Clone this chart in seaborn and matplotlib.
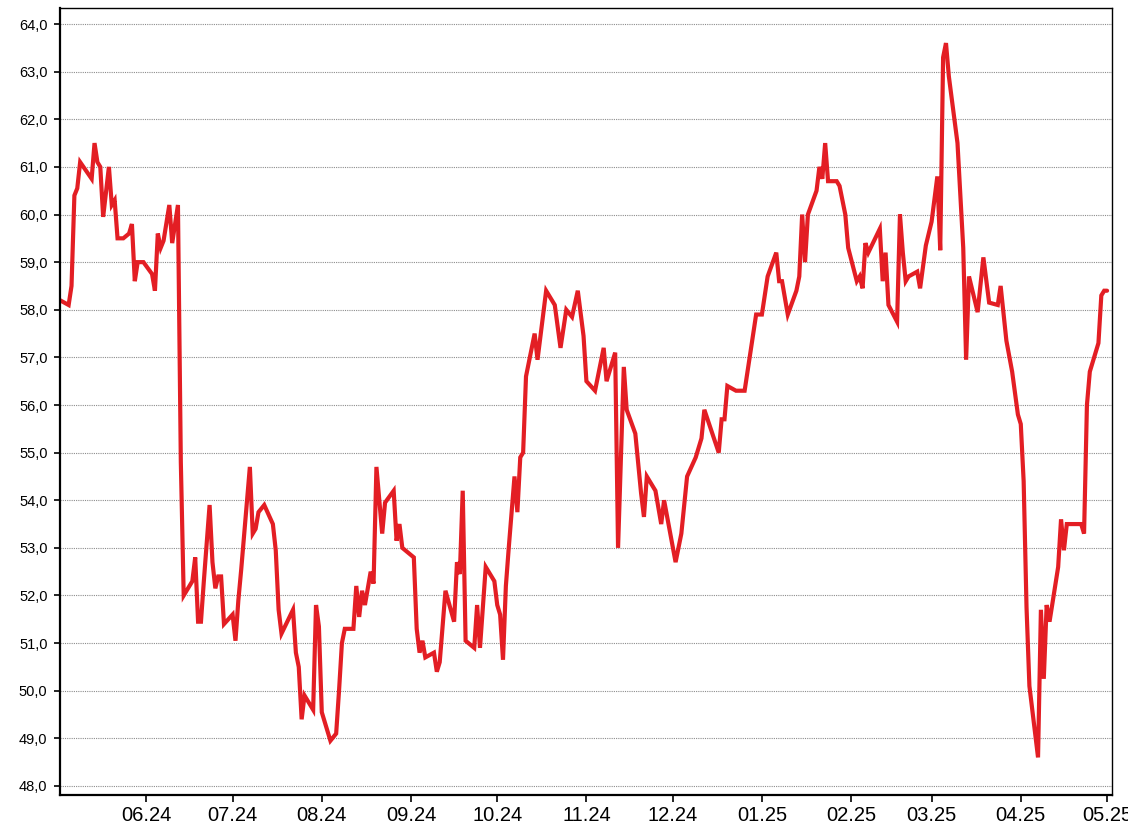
import matplotlib
matplotlib.use("Agg")
import matplotlib.pyplot as plt
from matplotlib.ticker import FuncFormatter, MultipleLocator
import seaborn as sns
import pandas as pd

dates = [
    "2024-05-02", "2024-05-05", "2024-05-06", "2024-05-07", "2024-05-08", "2024-05-09",
    "2024-05-13", "2024-05-14", "2024-05-15", "2024-05-16", "2024-05-17", "2024-05-19",
    "2024-05-20", "2024-05-21", "2024-05-22", "2024-05-24", "2024-05-26", "2024-05-27",
    "2024-05-28", "2024-05-29", "2024-05-31", "2024-06-03", "2024-06-04", "2024-06-05",
    "2024-06-06", "2024-06-07", "2024-06-09", "2024-06-10", "2024-06-12", "2024-06-13",
    "2024-06-14", "2024-06-17", "2024-06-18", "2024-06-19", "2024-06-20", "2024-06-21",
    "2024-06-23", "2024-06-24", "2024-06-25", "2024-06-26", "2024-06-27", "2024-06-28",
    "2024-07-01", "2024-07-02", "2024-07-03", "2024-07-04", "2024-07-07", "2024-07-08",
    "2024-07-09", "2024-07-10", "2024-07-12", "2024-07-15", "2024-07-16", "2024-07-17",
    "2024-07-18", "2024-07-22", "2024-07-23", "2024-07-24", "2024-07-25", "2024-07-26",
    "2024-07-29", "2024-07-30", "2024-07-31", "2024-08-01", "2024-08-04", "2024-08-06",
    "2024-08-07", "2024-08-08", "2024-08-09", "2024-08-12", "2024-08-13", "2024-08-14",
    "2024-08-15", "2024-08-16", "2024-08-18", "2024-08-19", "2024-08-20", "2024-08-22",
    "2024-08-23", "2024-08-26", "2024-08-27", "2024-08-28", "2024-08-29", "2024-09-02",
    "2024-09-03", "2024-09-04", "2024-09-05", "2024-09-06", "2024-09-09", "2024-09-10",
    "2024-09-11", "2024-09-13", "2024-09-16", "2024-09-17", "2024-09-18", "2024-09-19",
    "2024-09-20", "2024-09-23", "2024-09-24", "2024-09-25", "2024-09-27", "2024-09-30",
    "2024-10-01", "2024-10-02", "2024-10-03", "2024-10-04", "2024-10-05", "2024-10-07",
    "2024-10-08", "2024-10-09", "2024-10-10", "2024-10-11", "2024-10-14", "2024-10-15",
    "2024-10-18", "2024-10-21", "2024-10-23", "2024-10-25", "2024-10-27", "2024-10-29",
    "2024-10-31", "2024-11-01", "2024-11-04", "2024-11-07", "2024-11-08", "2024-11-11",
    "2024-11-12", "2024-11-14", "2024-11-15", "2024-11-18", "2024-11-20", "2024-11-21",
    "2024-11-22", "2024-11-25", "2024-11-27", "2024-11-28", "2024-12-02", "2024-12-04",
    "2024-12-06", "2024-12-09", "2024-12-11", "2024-12-12", "2024-12-17", "2024-12-18",
    "2024-12-19", "2024-12-20", "2024-12-23", "2024-12-26", "2024-12-30", "2025-01-01",
    "2025-01-03", "2025-01-06", "2025-01-07", "2025-01-08", "2025-01-10", "2025-01-13",
    "2025-01-14", "2025-01-15", "2025-01-16", "2025-01-17", "2025-01-20", "2025-01-21",
    "2025-01-22", "2025-01-23", "2025-01-24", "2025-01-27", "2025-01-28", "2025-01-30",
    "2025-01-31", "2025-02-03", "2025-02-04", "2025-02-05", "2025-02-06", "2025-02-07",
    "2025-02-09", "2025-02-11", "2025-02-12", "2025-02-13", "2025-02-14", "2025-02-17",
    "2025-02-18", "2025-02-19", "2025-02-20", "2025-02-21", "2025-02-24", "2025-02-25",
    "2025-02-27", "2025-03-01", "2025-03-03", "2025-03-04", "2025-03-05", "2025-03-06",
    "2025-03-07", "2025-03-10", "2025-03-12", "2025-03-13", "2025-03-14", "2025-03-17",
    "2025-03-19", "2025-03-21", "2025-03-24", "2025-03-25", "2025-03-27", "2025-03-29",
    "2025-03-31", "2025-04-01", "2025-04-02", "2025-04-03", "2025-04-04", "2025-04-07",
    "2025-04-08", "2025-04-09", "2025-04-10", "2025-04-11", "2025-04-14", "2025-04-15",
    "2025-04-16", "2025-04-17", "2025-04-22", "2025-04-23", "2025-04-24", "2025-04-25",
    "2025-04-28", "2025-04-29", "2025-04-30", "2025-05-01",
]

values = [
    58.2, 58.1, 58.5, 60.4, 60.55, 61.1,
    60.75, 61.5, 61.1, 61.0, 59.95, 61.0,
    60.2, 60.3, 59.5, 59.5, 59.6, 59.8,
    58.6, 59.0, 59.0, 58.75, 58.4, 59.6,
    59.3, 59.45, 60.2, 59.4, 60.2, 54.8,
    52.0, 52.3, 52.8, 51.45, 51.45, 52.3,
    53.9, 52.7, 52.15, 52.4, 52.4, 51.4,
    51.6, 51.05, 51.9, 52.55, 54.7, 53.3,
    53.4, 53.75, 53.9, 53.5, 52.95, 51.7,
    51.2, 51.7, 50.8, 50.5, 49.4, 49.9,
    49.6, 51.8, 51.35, 49.55, 48.95, 49.1,
    50.0, 51.0, 51.3, 51.3, 52.2, 51.55,
    52.1, 51.8, 52.5, 52.25, 54.7, 53.3,
    53.95, 54.2, 53.15, 53.5, 53.0, 52.8,
    51.3, 50.8, 51.05, 50.7, 50.8, 50.4,
    50.6, 52.1, 51.45, 52.7, 52.45, 54.2,
    51.05, 50.9, 51.8, 50.9, 52.6, 52.3,
    51.8, 51.6, 50.65, 52.2, 53.0, 54.5,
    53.75, 54.9, 55.0, 56.6, 57.5, 56.95,
    58.4, 58.1, 57.2, 58.0, 57.85, 58.4,
    57.45, 56.5, 56.3, 57.2, 56.5, 57.1,
    53.0, 56.8, 55.9, 55.4, 54.15, 53.65,
    54.5, 54.2, 53.5, 54.0, 52.7, 53.3,
    54.5, 54.9, 55.3, 55.9, 55.0, 55.7,
    55.7, 56.4, 56.3, 56.3, 57.9, 57.9,
    58.7, 59.2, 58.6, 58.6, 57.9, 58.4,
    58.7, 60.0, 59.0, 60.0, 60.5, 61.0,
    60.75, 61.5, 60.7, 60.7, 60.6, 60.0,
    59.3, 58.6, 58.7, 58.45, 59.4, 59.2,
    59.45, 59.7, 58.6, 59.2, 58.1, 57.75,
    60.0, 59.2, 58.6, 58.7, 58.8, 58.45,
    59.35, 59.85, 60.8, 59.25, 63.3, 63.6,
    62.9, 61.5, 59.3, 56.95, 58.7, 57.95,
    59.1, 58.15, 58.1, 58.5, 57.35, 56.7,
    55.8, 55.6, 54.4, 51.75, 50.1, 48.6,
    51.7, 50.25, 51.8, 51.45, 52.6, 53.6,
    52.95, 53.5, 53.5, 53.3, 56.0, 56.7,
    57.3, 58.3, 58.4, 58.4,
]

month_ticks = ["2024-06-01", "2024-07-01", "2024-08-01", "2024-09-01", "2024-10-01",
               "2024-11-01", "2024-12-01", "2025-01-01", "2025-02-01", "2025-03-01",
               "2025-04-01", "2025-05-01"]
month_labels = ["06.24", "07.24", "08.24", "09.24", "10.24", "11.24", "12.24",
                "01.25", "02.25", "03.25", "04.25", "05.25"]

df = pd.DataFrame({"date": pd.to_datetime(dates), "value": values})

sns.set_style("white")
plt.rcParams["font.family"] = ["Liberation Sans", "DejaVu Sans"]

fig = plt.figure(figsize=(11.28, 8.36), dpi=100)
ax = fig.add_axes([0.0532, 0.049, 0.9326, 0.9414])

sns.lineplot(data=df, x="date", y="value", ax=ax, color="#e31e24",
             linewidth=3.0, solid_joinstyle="miter", estimator=None)

ax.set_xlim(pd.Timestamp("2024-05-02"), pd.Timestamp("2025-05-02 17:00"))
ax.set_ylim(47.81, 64.336)

ax.yaxis.set_major_locator(MultipleLocator(1.0))
ax.yaxis.set_major_formatter(FuncFormatter(lambda v, p: f"{v:.1f}".replace(".", ",")))
ax.set_xticks(pd.to_datetime(month_ticks))
ax.set_xticklabels(month_labels)

ax.grid(axis="y", color="#8c8c8c", linestyle=(0, (1, 1)), linewidth=0.8)
ax.grid(axis="x", visible=False)
ax.set_axisbelow(True)

ax.set_xlabel("")
ax.set_ylabel("")

for side in ["top", "right"]:
    ax.spines[side].set_visible(True)
    ax.spines[side].set_color("black")
    ax.spines[side].set_linewidth(1.0)
for side in ["left", "bottom"]:
    ax.spines[side].set_color("black")
    ax.spines[side].set_linewidth(1.6)

ax.tick_params(axis="y", which="major", direction="out", length=4, width=1.2,
               labelsize=10.5, colors="black", pad=5, left=True)
ax.tick_params(axis="x", which="major", direction="out", length=5, width=1.2,
               labelsize=14.5, colors="black", pad=3, bottom=True)

fig.savefig("out.png", dpi=100)
